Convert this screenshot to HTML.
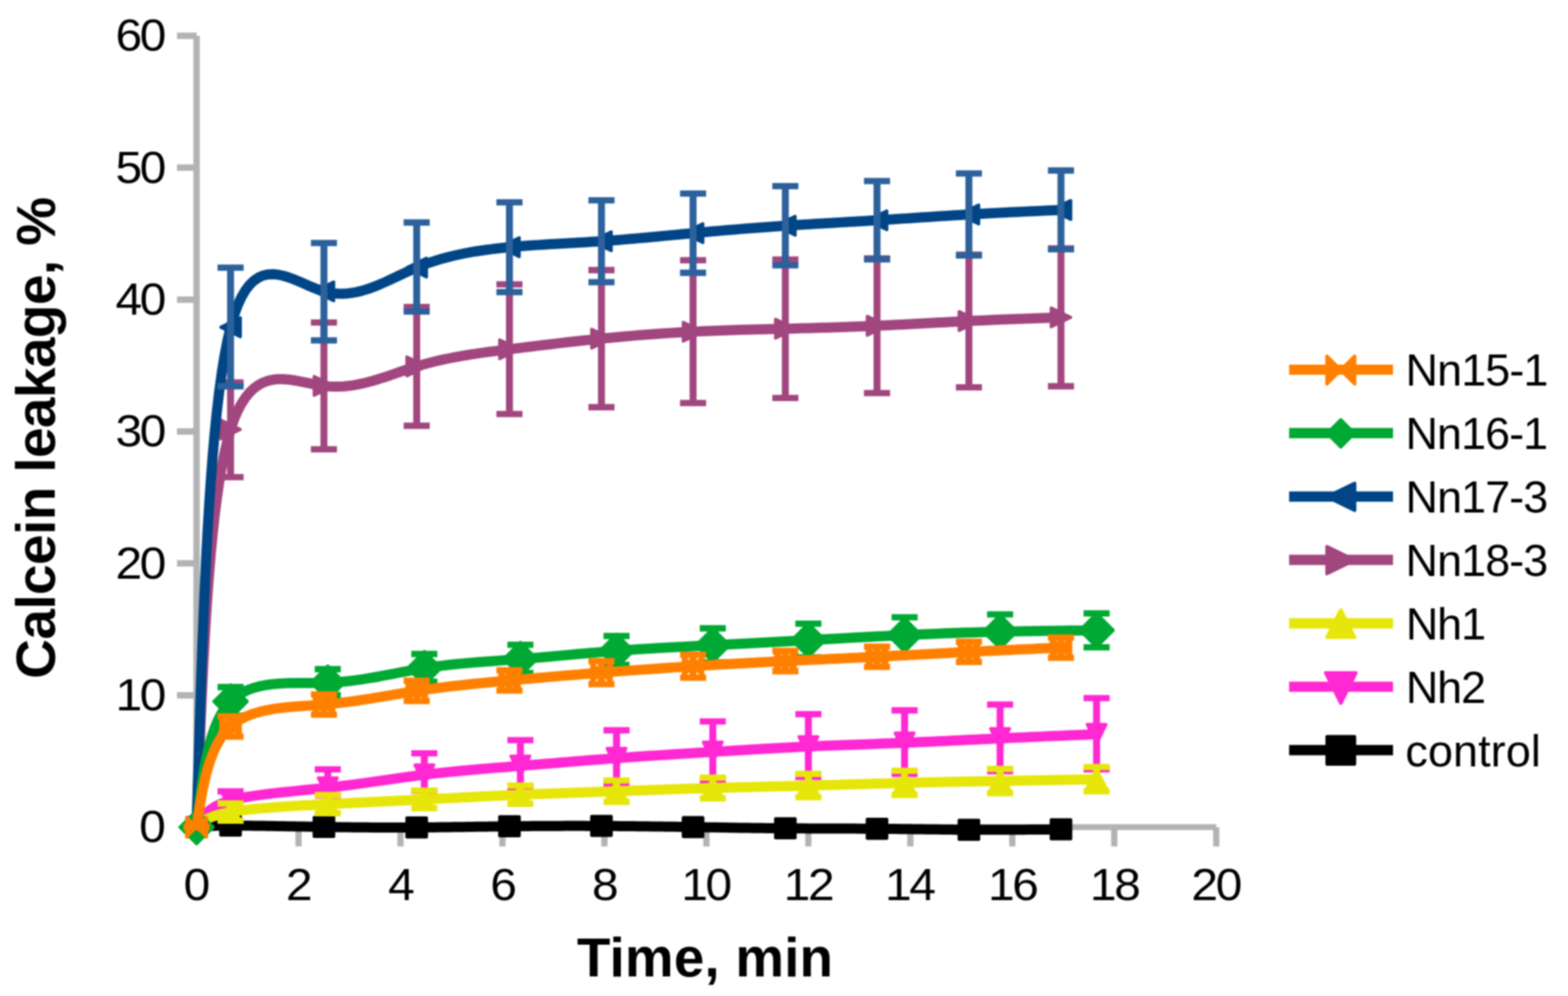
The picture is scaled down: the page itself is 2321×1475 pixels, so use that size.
<!DOCTYPE html>
<html lang="en"><head><meta charset="utf-8"><title>Calcein leakage</title>
<style>
html,body{margin:0;padding:0;background:#fff;}
body{width:2321px;height:1475px;overflow:hidden;}
svg{display:block;filter:blur(1.0px);}
</style></head><body>
<svg width="2321" height="1475" viewBox="0 0 2321 1475" role="img" aria-label="Calcein leakage versus time">
<rect width="2321" height="1475" fill="#fff"/>
<g id="axes" stroke="#b3b3b3" fill="none"><path stroke-width="9.5" d="M291 53.02 V1225"/><path stroke-width="8.8" d="M291 1224.8 H1800.3"/><path stroke-width="9.5" d="M262 1029.67 H291 M262 834.34 H291 M262 639.01 H291 M262 443.68 H291 M262 248.35 H291 M262 53.02 H291"/><path stroke-width="9.2" d="M441.93 1225 V1253.6 M592.86 1225 V1253.6 M743.79 1225 V1253.6 M894.72 1225 V1253.6 M1045.65 1225 V1253.6 M1196.58 1225 V1253.6 M1347.51 1225 V1253.6 M1498.44 1225 V1253.6 M1649.37 1225 V1253.6 M1800.3 1225 V1253.6"/></g>
<g id="ticklabels" font-family="'Liberation Sans', sans-serif" fill="#000">
<text class="yt" transform="translate(206.1 1247.3) scale(1.07 1)" font-size="66.3" letter-spacing="-3.25">0</text>
<text class="yt" transform="translate(170.9 1051.97) scale(1.07 1)" font-size="66.3" letter-spacing="-3.25">10</text>
<text class="yt" transform="translate(170.9 856.64) scale(1.07 1)" font-size="66.3" letter-spacing="-3.25">20</text>
<text class="yt" transform="translate(170.9 661.31) scale(1.07 1)" font-size="66.3" letter-spacing="-3.25">30</text>
<text class="yt" transform="translate(170.9 465.98) scale(1.07 1)" font-size="66.3" letter-spacing="-3.25">40</text>
<text class="yt" transform="translate(170.9 270.65) scale(1.07 1)" font-size="66.3" letter-spacing="-3.25">50</text>
<text class="yt" transform="translate(170.9 75.32) scale(1.07 1)" font-size="66.3" letter-spacing="-3.25">60</text>
<text class="xt" transform="translate(271.85 1332.7) scale(1.07 1)" font-size="66.3" letter-spacing="-3.25">0</text>
<text class="xt" transform="translate(423.3 1332.7) scale(1.07 1)" font-size="66.3" letter-spacing="-3.25">2</text>
<text class="xt" transform="translate(574.5 1332.7) scale(1.07 1)" font-size="66.3" letter-spacing="-3.25">4</text>
<text class="xt" transform="translate(725.7 1332.7) scale(1.07 1)" font-size="66.3" letter-spacing="-3.25">6</text>
<text class="xt" transform="translate(876.2 1332.7) scale(1.07 1)" font-size="66.3" letter-spacing="-3.25">8</text>
<text class="xt" transform="translate(1008.4 1332.7) scale(1.07 1)" font-size="66.3" letter-spacing="-3.25">10</text>
<text class="xt" transform="translate(1160.1 1332.7) scale(1.07 1)" font-size="66.3" letter-spacing="-3.25">12</text>
<text class="xt" transform="translate(1310.1 1332.7) scale(1.07 1)" font-size="66.3" letter-spacing="-3.25">14</text>
<text class="xt" transform="translate(1462.4 1332.7) scale(1.07 1)" font-size="66.3" letter-spacing="-3.25">16</text>
<text class="xt" transform="translate(1613.2 1332.7) scale(1.07 1)" font-size="66.3" letter-spacing="-3.25">18</text>
<text class="xt" transform="translate(1763.6 1332.7) scale(1.07 1)" font-size="66.3" letter-spacing="-3.25">20</text>
</g>
<g id="titles" font-family="'Liberation Sans', sans-serif" fill="#000">
<text id="xtitle" transform="translate(854 1445.8)" font-size="81" font-weight="bold" letter-spacing="0.3">Time, min</text>
<text id="ytitle" transform="translate(80.7 1005.2) rotate(-90)" font-size="81.5" font-weight="bold" letter-spacing="-0.92">Calcein leakage, %</text>
</g>
<g class="series">
<path d="M291 1225 L292.34 1224.82 L293.69 1224.64 L295.08 1224.46 L296.52 1224.29 L298.04 1224.12 L299.64 1223.95 L301.35 1223.79 L303.18 1223.63 L305.16 1223.48 L307.29 1223.34 L309.6 1223.21 L312.11 1223.09 L314.83 1222.98 L317.78 1222.89 L320.97 1222.8 L324.44 1222.73 L328.18 1222.67 L332.23 1222.63 L336.6 1222.61 L341.3 1222.6 L346.35 1222.61 L351.73 1222.64 L357.42 1222.68 L363.4 1222.74 L369.64 1222.81 L376.13 1222.89 L382.83 1222.98 L389.72 1223.09 L396.79 1223.2 L404.01 1223.32 L411.36 1223.44 L418.81 1223.57 L426.35 1223.7 L433.94 1223.83 L441.57 1223.96 L449.22 1224.1 L456.86 1224.23 L464.47 1224.36 L472.02 1224.48 L479.5 1224.6 L486.88 1224.71 L494.18 1224.82 L501.38 1224.91 L508.51 1225.01 L515.56 1225.09 L522.54 1225.17 L529.47 1225.23 L536.34 1225.3 L543.16 1225.35 L549.94 1225.39 L556.68 1225.43 L563.39 1225.46 L570.08 1225.48 L576.76 1225.5 L583.42 1225.5 L590.08 1225.5 L596.74 1225.49 L603.41 1225.47 L610.09 1225.44 L616.8 1225.4 L623.53 1225.35 L630.29 1225.3 L637.07 1225.24 L643.87 1225.17 L650.69 1225.09 L657.53 1225.01 L664.39 1224.92 L671.26 1224.83 L678.14 1224.74 L685.03 1224.64 L691.93 1224.55 L698.84 1224.45 L705.75 1224.35 L712.67 1224.25 L719.58 1224.15 L726.5 1224.06 L733.41 1223.96 L740.31 1223.87 L747.21 1223.78 L754.1 1223.7 L760.98 1223.62 L767.85 1223.55 L774.71 1223.48 L781.56 1223.42 L788.4 1223.36 L795.23 1223.31 L802.06 1223.27 L808.88 1223.23 L815.69 1223.19 L822.49 1223.16 L829.29 1223.14 L836.08 1223.12 L842.87 1223.11 L849.66 1223.11 L856.44 1223.11 L863.21 1223.11 L869.99 1223.13 L876.76 1223.14 L883.53 1223.17 L890.3 1223.2 L897.07 1223.24 L903.84 1223.28 L910.6 1223.33 L917.37 1223.38 L924.14 1223.44 L930.9 1223.51 L937.67 1223.58 L944.44 1223.65 L951.22 1223.73 L957.99 1223.81 L964.77 1223.9 L971.54 1223.99 L978.33 1224.08 L985.11 1224.17 L991.9 1224.27 L998.69 1224.37 L1005.49 1224.48 L1012.29 1224.58 L1019.09 1224.69 L1025.9 1224.8 L1032.71 1224.91 L1039.53 1225.02 L1046.36 1225.13 L1053.19 1225.25 L1060.02 1225.36 L1066.85 1225.47 L1073.69 1225.58 L1080.52 1225.68 L1087.36 1225.79 L1094.2 1225.89 L1101.04 1225.99 L1107.88 1226.09 L1114.71 1226.19 L1121.55 1226.27 L1128.38 1226.36 L1135.21 1226.44 L1142.04 1226.51 L1148.87 1226.58 L1155.68 1226.64 L1162.5 1226.7 L1169.31 1226.75 L1176.11 1226.79 L1182.92 1226.83 L1189.71 1226.86 L1196.5 1226.89 L1203.29 1226.91 L1210.08 1226.93 L1216.86 1226.95 L1223.64 1226.97 L1230.42 1226.99 L1237.2 1227.01 L1243.98 1227.02 L1250.76 1227.05 L1257.53 1227.07 L1264.31 1227.09 L1271.08 1227.13 L1277.86 1227.16 L1284.64 1227.2 L1291.42 1227.25 L1298.2 1227.3 L1304.98 1227.36 L1311.77 1227.43 L1318.56 1227.5 L1325.35 1227.58 L1332.14 1227.66 L1338.94 1227.75 L1345.73 1227.84 L1352.53 1227.92 L1359.33 1228.01 L1366.13 1228.1 L1372.93 1228.19 L1379.73 1228.28 L1386.54 1228.36 L1393.34 1228.44 L1400.15 1228.52 L1406.96 1228.59 L1413.77 1228.65 L1420.58 1228.71 L1427.39 1228.76 L1434.2 1228.8 L1441.01 1228.83 L1447.82 1228.85 L1454.64 1228.86 L1461.45 1228.87 L1468.26 1228.86 L1475.08 1228.85 L1481.89 1228.83 L1488.71 1228.81 L1495.52 1228.78 L1502.34 1228.74 L1509.15 1228.7 L1515.97 1228.66 L1522.78 1228.61 L1529.6 1228.56 L1536.42 1228.5 L1543.23 1228.45 L1550.05 1228.39 L1556.87 1228.32 L1563.68 1228.26 L1570.5 1228.2" fill="none" stroke="#000000" stroke-width="15" stroke-linejoin="round" stroke-linecap="butt"/>
<g fill="#000000" stroke="#000000" stroke-width="4.5" stroke-linejoin="round"><path d="M276.5 1210.85 L305.5 1210.85 L305.5 1239.15 L276.5 1239.15 Z"/><path d="M326.8 1208.45 L355.8 1208.45 L355.8 1236.75 L326.8 1236.75 Z"/><path d="M465 1210.45 L494 1210.45 L494 1238.75 L465 1238.75 Z"/><path d="M602.3 1211.25 L631.3 1211.25 L631.3 1239.55 L602.3 1239.55 Z"/><path d="M739.6 1209.55 L768.6 1209.55 L768.6 1237.85 L739.6 1237.85 Z"/><path d="M875.8 1209.05 L904.8 1209.05 L904.8 1237.35 L875.8 1237.35 Z"/><path d="M1011.4 1210.65 L1040.4 1210.65 L1040.4 1238.95 L1011.4 1238.95 Z"/><path d="M1148 1212.55 L1177 1212.55 L1177 1240.85 L1148 1240.85 Z"/><path d="M1283.7 1213.15 L1312.7 1213.15 L1312.7 1241.45 L1283.7 1241.45 Z"/><path d="M1419.7 1214.65 L1448.7 1214.65 L1448.7 1242.95 L1419.7 1242.95 Z"/><path d="M1556 1214.05 L1585 1214.05 L1585 1242.35 L1556 1242.35 Z"/></g>
</g>
<g class="series">
<path d="M291 1225 L292.26 1222.74 L293.54 1220.49 L294.86 1218.25 L296.23 1216.02 L297.68 1213.81 L299.23 1211.62 L300.88 1209.45 L302.67 1207.31 L304.61 1205.21 L306.72 1203.14 L309.02 1201.12 L311.53 1199.14 L314.26 1197.22 L317.24 1195.34 L320.48 1193.53 L324 1191.78 L327.83 1190.1 L331.97 1188.49 L336.46 1186.95 L341.3 1185.5 L346.51 1184.13 L352.08 1182.83 L357.98 1181.61 L364.18 1180.46 L370.66 1179.37 L377.39 1178.33 L384.36 1177.35 L391.54 1176.41 L398.91 1175.5 L406.43 1174.63 L414.09 1173.79 L421.86 1172.97 L429.72 1172.17 L437.65 1171.37 L445.62 1170.58 L453.6 1169.79 L461.57 1168.99 L469.51 1168.18 L477.4 1167.35 L485.2 1166.5 L492.91 1165.62 L500.51 1164.71 L508.03 1163.78 L515.46 1162.83 L522.81 1161.86 L530.09 1160.88 L537.31 1159.88 L544.47 1158.88 L551.57 1157.87 L558.63 1156.86 L565.65 1155.85 L572.63 1154.85 L579.59 1153.85 L586.53 1152.86 L593.45 1151.88 L600.37 1150.92 L607.29 1149.98 L614.21 1149.06 L621.15 1148.17 L628.1 1147.3 L635.08 1146.46 L642.08 1145.66 L649.1 1144.88 L656.15 1144.13 L663.21 1143.4 L670.29 1142.69 L677.38 1142.01 L684.49 1141.34 L691.61 1140.69 L698.74 1140.06 L705.89 1139.44 L713.03 1138.83 L720.19 1138.24 L727.35 1137.65 L734.51 1137.07 L741.67 1136.49 L748.83 1135.92 L755.99 1135.35 L763.15 1134.77 L770.3 1134.2 L777.44 1133.62 L784.58 1133.04 L791.71 1132.46 L798.84 1131.88 L805.96 1131.29 L813.08 1130.71 L820.19 1130.12 L827.31 1129.54 L834.41 1128.95 L841.52 1128.37 L848.63 1127.79 L855.73 1127.22 L862.83 1126.64 L869.94 1126.08 L877.04 1125.51 L884.15 1124.96 L891.26 1124.41 L898.37 1123.86 L905.48 1123.33 L912.6 1122.8 L919.72 1122.28 L926.85 1121.77 L933.97 1121.27 L941.1 1120.77 L948.24 1120.28 L955.37 1119.8 L962.5 1119.33 L969.64 1118.86 L976.77 1118.39 L983.91 1117.93 L991.04 1117.48 L998.17 1117.03 L1005.3 1116.58 L1012.43 1116.13 L1019.55 1115.69 L1026.67 1115.25 L1033.79 1114.81 L1040.9 1114.37 L1048 1113.94 L1055.1 1113.5 L1062.19 1113.06 L1069.28 1112.63 L1076.36 1112.19 L1083.44 1111.76 L1090.51 1111.33 L1097.58 1110.9 L1104.65 1110.47 L1111.71 1110.05 L1118.78 1109.63 L1125.84 1109.22 L1132.91 1108.82 L1139.97 1108.42 L1147.04 1108.02 L1154.11 1107.64 L1161.18 1107.26 L1168.25 1106.89 L1175.33 1106.52 L1182.42 1106.17 L1189.5 1105.83 L1196.6 1105.5 L1203.7 1105.18 L1210.81 1104.87 L1217.92 1104.57 L1225.04 1104.28 L1232.16 1103.99 L1239.29 1103.72 L1246.42 1103.44 L1253.55 1103.18 L1260.68 1102.91 L1267.81 1102.65 L1274.94 1102.39 L1282.07 1102.14 L1289.2 1101.88 L1296.33 1101.62 L1303.45 1101.36 L1310.57 1101.1 L1317.69 1100.83 L1324.8 1100.56 L1331.9 1100.28 L1339 1100 L1346.09 1099.71 L1353.18 1099.41 L1360.25 1099.11 L1367.33 1098.8 L1374.4 1098.49 L1381.46 1098.17 L1388.53 1097.85 L1395.59 1097.52 L1402.65 1097.19 L1409.7 1096.86 L1416.76 1096.52 L1423.82 1096.19 L1430.88 1095.85 L1437.94 1095.51 L1445.01 1095.17 L1452.08 1094.84 L1459.15 1094.5 L1466.23 1094.16 L1473.31 1093.83 L1480.4 1093.5 L1487.5 1093.17 L1494.6 1092.85 L1501.71 1092.52 L1508.82 1092.2 L1515.95 1091.89 L1523.07 1091.57 L1530.2 1091.26 L1537.34 1090.94 L1544.48 1090.63 L1551.62 1090.33 L1558.77 1090.02 L1565.92 1089.71 L1573.08 1089.41 L1580.23 1089.11 L1587.39 1088.8 L1594.55 1088.5 L1601.71 1088.2 L1608.87 1087.9 L1616.04 1087.6 L1623.2 1087.3" fill="none" stroke="#ff28d2" stroke-width="15" stroke-linejoin="round" stroke-linecap="butt"/>
<g fill="#ff28d2" stroke="#ff28d2" stroke-width="4.5" stroke-linejoin="round"><path d="M277 1210.5 L305 1210.5 L291 1239.5 Z"/><path d="M327.3 1171 L355.3 1171 L341.3 1200 Z"/><path d="M471.2 1152 L499.2 1152 L485.2 1181 Z"/><path d="M614.1 1132.8 L642.1 1132.8 L628.1 1161.8 Z"/><path d="M756.3 1119.7 L784.3 1119.7 L770.3 1148.7 Z"/><path d="M898.6 1108.3 L926.6 1108.3 L912.6 1137.3 Z"/><path d="M1041.1 1099 L1069.1 1099 L1055.1 1128 Z"/><path d="M1182.6 1091 L1210.6 1091 L1196.6 1120 Z"/><path d="M1325 1085.5 L1353 1085.5 L1339 1114.5 Z"/><path d="M1466.4 1079 L1494.4 1079 L1480.4 1108 Z"/><path d="M1609.2 1072.8 L1637.2 1072.8 L1623.2 1101.8 Z"/></g>
<g stroke="#ff28d2" fill="none"><path stroke-width="10.3" d="M341.3 1172 V1198 M485.2 1139.3 V1178 M628.1 1115.6 V1171.3 M770.3 1096.2 V1165.5 M912.6 1081.5 V1160.5 M1055.1 1068.4 V1155.5 M1196.6 1057.6 V1150.5 M1339 1052 V1146 M1480.4 1043.3 V1142 M1623.2 1033.8 V1139.4"/><path stroke-width="9.3" d="M271.7 1225 H310.3 M322 1172 H360.6 M322 1198 H360.6 M465.9 1139.3 H504.5 M465.9 1178 H504.5 M608.8 1115.6 H647.4 M608.8 1171.3 H647.4 M751 1096.2 H789.6 M751 1165.5 H789.6 M893.3 1081.5 H931.9 M893.3 1160.5 H931.9 M1035.8 1068.4 H1074.4 M1035.8 1155.5 H1074.4 M1177.3 1057.6 H1215.9 M1177.3 1150.5 H1215.9 M1319.7 1052 H1358.3 M1319.7 1146 H1358.3 M1461.1 1043.3 H1499.7 M1461.1 1142 H1499.7 M1603.9 1033.8 H1642.5 M1603.9 1139.4 H1642.5"/></g>
</g>
<g class="series">
<path d="M291 1225 L292.26 1223.75 L293.54 1222.51 L294.86 1221.27 L296.23 1220.04 L297.68 1218.81 L299.23 1217.59 L300.88 1216.39 L302.67 1215.19 L304.61 1214.02 L306.72 1212.85 L309.02 1211.71 L311.53 1210.59 L314.26 1209.49 L317.24 1208.42 L320.48 1207.37 L324 1206.35 L327.83 1205.37 L331.97 1204.41 L336.46 1203.49 L341.3 1202.6 L346.51 1201.75 L352.08 1200.94 L357.98 1200.16 L364.18 1199.42 L370.66 1198.7 L377.39 1198.02 L384.36 1197.37 L391.54 1196.74 L398.91 1196.15 L406.43 1195.57 L414.09 1195.02 L421.86 1194.5 L429.72 1193.99 L437.65 1193.5 L445.62 1193.03 L453.6 1192.58 L461.57 1192.14 L469.51 1191.71 L477.4 1191.3 L485.2 1190.9 L492.91 1190.51 L500.51 1190.12 L508.03 1189.75 L515.46 1189.38 L522.81 1189.02 L530.09 1188.66 L537.31 1188.31 L544.47 1187.96 L551.57 1187.62 L558.63 1187.28 L565.65 1186.94 L572.63 1186.6 L579.59 1186.27 L586.53 1185.94 L593.45 1185.6 L600.37 1185.27 L607.29 1184.93 L614.21 1184.59 L621.15 1184.25 L628.1 1183.9 L635.08 1183.55 L642.08 1183.2 L649.1 1182.84 L656.15 1182.48 L663.21 1182.12 L670.29 1181.75 L677.38 1181.39 L684.49 1181.03 L691.61 1180.66 L698.74 1180.3 L705.89 1179.94 L713.03 1179.59 L720.19 1179.23 L727.35 1178.88 L734.51 1178.54 L741.67 1178.2 L748.83 1177.86 L755.99 1177.53 L763.15 1177.21 L770.3 1176.9 L777.44 1176.59 L784.58 1176.3 L791.71 1176.01 L798.84 1175.72 L805.96 1175.44 L813.08 1175.17 L820.19 1174.91 L827.31 1174.64 L834.41 1174.39 L841.52 1174.13 L848.63 1173.88 L855.73 1173.64 L862.83 1173.39 L869.94 1173.15 L877.04 1172.91 L884.15 1172.66 L891.26 1172.42 L898.37 1172.18 L905.48 1171.94 L912.6 1171.7 L919.72 1171.46 L926.85 1171.21 L933.97 1170.97 L941.1 1170.72 L948.24 1170.47 L955.37 1170.23 L962.5 1169.98 L969.64 1169.74 L976.77 1169.49 L983.91 1169.25 L991.04 1169.01 L998.17 1168.77 L1005.3 1168.54 L1012.43 1168.31 L1019.55 1168.08 L1026.67 1167.85 L1033.79 1167.63 L1040.9 1167.42 L1048 1167.21 L1055.1 1167 L1062.19 1166.8 L1069.28 1166.6 L1076.36 1166.41 L1083.44 1166.23 L1090.51 1166.05 L1097.58 1165.87 L1104.65 1165.69 L1111.71 1165.51 L1118.78 1165.34 L1125.84 1165.17 L1132.91 1165 L1139.97 1164.83 L1147.04 1164.65 L1154.11 1164.48 L1161.18 1164.31 L1168.25 1164.13 L1175.33 1163.95 L1182.42 1163.77 L1189.5 1163.59 L1196.6 1163.4 L1203.7 1163.21 L1210.81 1163.01 L1217.92 1162.81 L1225.04 1162.61 L1232.16 1162.4 L1239.29 1162.2 L1246.42 1161.99 L1253.55 1161.78 L1260.68 1161.57 L1267.81 1161.36 L1274.94 1161.16 L1282.07 1160.95 L1289.2 1160.74 L1296.33 1160.54 L1303.45 1160.34 L1310.57 1160.15 L1317.69 1159.95 L1324.8 1159.76 L1331.9 1159.58 L1339 1159.4 L1346.09 1159.23 L1353.18 1159.06 L1360.25 1158.9 L1367.33 1158.74 L1374.4 1158.58 L1381.46 1158.44 L1388.53 1158.29 L1395.59 1158.15 L1402.65 1158.01 L1409.7 1157.87 L1416.76 1157.74 L1423.82 1157.61 L1430.88 1157.48 L1437.94 1157.35 L1445.01 1157.23 L1452.08 1157.1 L1459.15 1156.97 L1466.23 1156.85 L1473.31 1156.73 L1480.4 1156.6 L1487.5 1156.47 L1494.6 1156.35 L1501.71 1156.22 L1508.82 1156.09 L1515.95 1155.97 L1523.07 1155.84 L1530.2 1155.71 L1537.34 1155.58 L1544.48 1155.45 L1551.62 1155.32 L1558.77 1155.19 L1565.92 1155.06 L1573.08 1154.92 L1580.23 1154.79 L1587.39 1154.66 L1594.55 1154.53 L1601.71 1154.4 L1608.87 1154.26 L1616.04 1154.13 L1623.2 1154" fill="none" stroke="#e6e60a" stroke-width="15" stroke-linejoin="round" stroke-linecap="butt"/>
<g fill="#e6e60a" stroke="#e6e60a" stroke-width="4.5" stroke-linejoin="round"><path d="M275.75 1239.75 L306.25 1239.75 L291 1210.25 Z"/><path d="M326.05 1217.35 L356.55 1217.35 L341.3 1187.85 Z"/><path d="M469.95 1205.65 L500.45 1205.65 L485.2 1176.15 Z"/><path d="M612.85 1198.65 L643.35 1198.65 L628.1 1169.15 Z"/><path d="M755.05 1191.65 L785.55 1191.65 L770.3 1162.15 Z"/><path d="M897.35 1186.45 L927.85 1186.45 L912.6 1156.95 Z"/><path d="M1039.85 1181.75 L1070.35 1181.75 L1055.1 1152.25 Z"/><path d="M1181.35 1178.15 L1211.85 1178.15 L1196.6 1148.65 Z"/><path d="M1323.75 1174.15 L1354.25 1174.15 L1339 1144.65 Z"/><path d="M1465.15 1171.35 L1495.65 1171.35 L1480.4 1141.85 Z"/><path d="M1607.95 1168.75 L1638.45 1168.75 L1623.2 1139.25 Z"/></g>
<g stroke="#e6e60a" fill="none"><path stroke-width="10.3" d="M341.3 1189.9 V1215.3 M485.2 1177.4 V1204.3 M628.1 1170.9 V1196.8 M770.3 1163.4 V1190.3 M912.6 1155.9 V1187.5 M1055.1 1151.6 V1182.4 M1196.6 1146.2 V1180.6 M1339 1141.4 V1177.4 M1480.4 1138.6 V1174.6 M1623.2 1135.9 V1171.9"/><path stroke-width="9.3" d="M271.7 1225 H310.3 M322 1189.9 H360.6 M322 1215.3 H360.6 M465.9 1177.4 H504.5 M465.9 1204.3 H504.5 M608.8 1170.9 H647.4 M608.8 1196.8 H647.4 M751 1163.4 H789.6 M751 1190.3 H789.6 M893.3 1155.9 H931.9 M893.3 1187.5 H931.9 M1035.8 1151.6 H1074.4 M1035.8 1182.4 H1074.4 M1177.3 1146.2 H1215.9 M1177.3 1180.6 H1215.9 M1319.7 1141.4 H1358.3 M1319.7 1177.4 H1358.3 M1461.1 1138.6 H1499.7 M1461.1 1174.6 H1499.7 M1603.9 1135.9 H1642.5 M1603.9 1171.9 H1642.5"/></g>
</g>
<g class="series">
<path d="M291 1225 L292.34 1188.67 L293.69 1152.44 L295.08 1116.41 L296.52 1080.7 L298.04 1045.4 L299.64 1010.62 L301.35 976.46 L303.18 943.03 L305.16 910.42 L307.29 878.75 L309.6 848.11 L312.11 818.61 L314.83 790.35 L317.78 763.43 L320.97 737.97 L324.44 714.05 L328.18 691.8 L332.23 671.3 L336.6 652.67 L341.3 636 L346.35 621.36 L351.73 608.68 L357.42 597.81 L363.4 588.64 L369.64 581.04 L376.13 574.9 L382.83 570.07 L389.72 566.45 L396.79 563.91 L404.01 562.32 L411.36 561.56 L418.81 561.5 L426.35 562.02 L433.94 563 L441.57 564.31 L449.22 565.83 L456.86 567.43 L464.47 568.99 L472.02 570.39 L479.5 571.5 L486.88 572.22 L494.18 572.56 L501.38 572.53 L508.51 572.17 L515.56 571.5 L522.54 570.56 L529.47 569.35 L536.34 567.93 L543.16 566.29 L549.94 564.49 L556.68 562.53 L563.39 560.45 L570.08 558.28 L576.76 556.04 L583.42 553.75 L590.08 551.45 L596.74 549.16 L603.41 546.9 L610.09 544.71 L616.8 542.6 L623.53 540.6 L630.29 538.72 L637.07 536.94 L643.87 535.26 L650.69 533.67 L657.53 532.16 L664.39 530.74 L671.26 529.4 L678.14 528.13 L685.03 526.92 L691.93 525.77 L698.84 524.68 L705.75 523.63 L712.67 522.63 L719.58 521.66 L726.5 520.73 L733.41 519.82 L740.31 518.93 L747.21 518.06 L754.1 517.2 L760.98 516.34 L767.85 515.49 L774.71 514.64 L781.56 513.8 L788.4 512.96 L795.23 512.13 L802.06 511.31 L808.88 510.49 L815.69 509.69 L822.49 508.89 L829.29 508.1 L836.08 507.32 L842.87 506.55 L849.66 505.79 L856.44 505.05 L863.21 504.31 L869.99 503.59 L876.76 502.88 L883.53 502.18 L890.3 501.5 L897.07 500.83 L903.84 500.18 L910.6 499.54 L917.37 498.92 L924.14 498.31 L930.9 497.72 L937.67 497.14 L944.44 496.58 L951.22 496.04 L957.99 495.51 L964.77 495 L971.54 494.51 L978.33 494.03 L985.11 493.57 L991.9 493.13 L998.69 492.71 L1005.49 492.3 L1012.29 491.92 L1019.09 491.55 L1025.9 491.2 L1032.71 490.87 L1039.53 490.56 L1046.36 490.26 L1053.19 489.98 L1060.02 489.71 L1066.85 489.46 L1073.69 489.22 L1080.52 489 L1087.36 488.78 L1094.2 488.57 L1101.04 488.37 L1107.88 488.18 L1114.71 488 L1121.55 487.82 L1128.38 487.64 L1135.21 487.47 L1142.04 487.3 L1148.87 487.14 L1155.68 486.97 L1162.5 486.8 L1169.31 486.63 L1176.11 486.46 L1182.92 486.28 L1189.71 486.1 L1196.5 485.92 L1203.29 485.73 L1210.08 485.54 L1216.86 485.35 L1223.64 485.14 L1230.42 484.93 L1237.2 484.72 L1243.98 484.5 L1250.76 484.27 L1257.53 484.03 L1264.31 483.78 L1271.08 483.52 L1277.86 483.26 L1284.64 482.98 L1291.42 482.7 L1298.2 482.4 L1304.98 482.09 L1311.77 481.77 L1318.56 481.44 L1325.35 481.11 L1332.14 480.76 L1338.94 480.41 L1345.73 480.06 L1352.53 479.7 L1359.33 479.33 L1366.13 478.97 L1372.93 478.6 L1379.73 478.23 L1386.54 477.86 L1393.34 477.5 L1400.15 477.14 L1406.96 476.78 L1413.77 476.42 L1420.58 476.07 L1427.39 475.73 L1434.2 475.4 L1441.01 475.08 L1447.82 474.76 L1454.64 474.45 L1461.45 474.15 L1468.26 473.86 L1475.08 473.57 L1481.89 473.29 L1488.71 473.01 L1495.52 472.74 L1502.34 472.48 L1509.15 472.22 L1515.97 471.96 L1522.78 471.71 L1529.6 471.46 L1536.42 471.21 L1543.23 470.97 L1550.05 470.72 L1556.87 470.48 L1563.68 470.24 L1570.5 470" fill="none" stroke="#a1467e" stroke-width="15" stroke-linejoin="round" stroke-linecap="butt"/>
<g fill="#a1467e" stroke="#a1467e" stroke-width="4.5" stroke-linejoin="round"><path d="M276.5 1211 L305.5 1225 L276.5 1239 Z"/><path d="M326.8 622 L355.8 636 L326.8 650 Z"/><path d="M465 557.5 L494 571.5 L465 585.5 Z"/><path d="M602.3 528.6 L631.3 542.6 L602.3 556.6 Z"/><path d="M739.6 503.2 L768.6 517.2 L739.6 531.2 Z"/><path d="M875.8 487.5 L904.8 501.5 L875.8 515.5 Z"/><path d="M1011.4 477.2 L1040.4 491.2 L1011.4 505.2 Z"/><path d="M1148 472.8 L1177 486.8 L1148 500.8 Z"/><path d="M1283.7 468.4 L1312.7 482.4 L1283.7 496.4 Z"/><path d="M1419.7 461.4 L1448.7 475.4 L1419.7 489.4 Z"/><path d="M1556 456 L1585 470 L1556 484 Z"/></g>
<g stroke="#a1467e" fill="none"><path stroke-width="10.3" d="M341.3 566.5 V706.6 M479.5 477.7 V665.4 M616.8 454.7 V630.5 M754.1 421.2 V613.2 M890.3 400 V603 M1025.9 385.4 V596.9 M1162.5 384.3 V589.3 M1298.2 382.6 V582.2 M1434.2 377.1 V573.7 M1570.5 368 V572"/><path stroke-width="9.3" d="M271.7 1225 H310.3 M322 566.5 H360.6 M322 706.6 H360.6 M460.2 477.7 H498.8 M460.2 665.4 H498.8 M597.5 454.7 H636.1 M597.5 630.5 H636.1 M734.8 421.2 H773.4 M734.8 613.2 H773.4 M871 400 H909.6 M871 603 H909.6 M1006.6 385.4 H1045.2 M1006.6 596.9 H1045.2 M1143.2 384.3 H1181.8 M1143.2 589.3 H1181.8 M1278.9 382.6 H1317.5 M1278.9 582.2 H1317.5 M1414.9 377.1 H1453.5 M1414.9 573.7 H1453.5 M1551.2 368 H1589.8 M1551.2 572 H1589.8"/></g>
</g>
<g class="series">
<path d="M291 1225 L292.34 1178.86 L293.69 1132.86 L295.08 1087.13 L296.52 1041.81 L298.04 997.04 L299.64 952.96 L301.35 909.7 L303.18 867.4 L305.16 826.19 L307.29 786.22 L309.6 747.63 L312.11 710.54 L314.83 675.1 L317.78 641.44 L320.97 609.7 L324.44 580.01 L328.18 552.53 L332.23 527.37 L336.6 504.68 L341.3 484.6 L346.35 467.21 L351.73 452.39 L357.42 439.98 L363.4 429.8 L369.64 421.68 L376.13 415.45 L382.83 410.94 L389.72 407.98 L396.79 406.41 L404.01 406.04 L411.36 406.72 L418.81 408.26 L426.35 410.51 L433.94 413.28 L441.57 416.41 L449.22 419.73 L456.86 423.07 L464.47 426.26 L472.02 429.13 L479.5 431.5 L486.88 433.25 L494.18 434.37 L501.38 434.92 L508.51 434.93 L515.56 434.44 L522.54 433.5 L529.47 432.15 L536.34 430.43 L543.16 428.38 L549.94 426.05 L556.68 423.47 L563.39 420.69 L570.08 417.75 L576.76 414.69 L583.42 411.56 L590.08 408.39 L596.74 405.22 L603.41 402.11 L610.09 399.09 L616.8 396.2 L623.53 393.48 L630.29 390.92 L637.07 388.53 L643.87 386.29 L650.69 384.2 L657.53 382.25 L664.39 380.44 L671.26 378.75 L678.14 377.19 L685.03 375.74 L691.93 374.4 L698.84 373.16 L705.75 372.01 L712.67 370.96 L719.58 369.98 L726.5 369.08 L733.41 368.25 L740.31 367.48 L747.21 366.77 L754.1 366.1 L760.98 365.48 L767.85 364.89 L774.71 364.34 L781.56 363.82 L788.4 363.33 L795.23 362.86 L802.06 362.42 L808.88 362 L815.69 361.59 L822.49 361.19 L829.29 360.8 L836.08 360.42 L842.87 360.05 L849.66 359.67 L856.44 359.28 L863.21 358.89 L869.99 358.49 L876.76 358.08 L883.53 357.65 L890.3 357.2 L897.07 356.73 L903.84 356.23 L910.6 355.72 L917.37 355.18 L924.14 354.63 L930.9 354.07 L937.67 353.49 L944.44 352.89 L951.22 352.29 L957.99 351.67 L964.77 351.05 L971.54 350.42 L978.33 349.78 L985.11 349.14 L991.9 348.5 L998.69 347.85 L1005.49 347.21 L1012.29 346.57 L1019.09 345.93 L1025.9 345.3 L1032.71 344.67 L1039.53 344.05 L1046.36 343.44 L1053.19 342.84 L1060.02 342.24 L1066.85 341.65 L1073.69 341.06 L1080.52 340.49 L1087.36 339.92 L1094.2 339.36 L1101.04 338.82 L1107.88 338.27 L1114.71 337.74 L1121.55 337.22 L1128.38 336.71 L1135.21 336.21 L1142.04 335.71 L1148.87 335.23 L1155.68 334.76 L1162.5 334.3 L1169.31 333.85 L1176.11 333.41 L1182.92 332.98 L1189.71 332.56 L1196.5 332.14 L1203.29 331.73 L1210.08 331.33 L1216.86 330.93 L1223.64 330.54 L1230.42 330.15 L1237.2 329.76 L1243.98 329.37 L1250.76 328.98 L1257.53 328.59 L1264.31 328.2 L1271.08 327.81 L1277.86 327.42 L1284.64 327.02 L1291.42 326.61 L1298.2 326.2 L1304.98 325.78 L1311.77 325.36 L1318.56 324.93 L1325.35 324.5 L1332.14 324.06 L1338.94 323.62 L1345.73 323.18 L1352.53 322.74 L1359.33 322.29 L1366.13 321.85 L1372.93 321.41 L1379.73 320.97 L1386.54 320.53 L1393.34 320.09 L1400.15 319.66 L1406.96 319.24 L1413.77 318.82 L1420.58 318.4 L1427.39 318 L1434.2 317.6 L1441.01 317.21 L1447.82 316.83 L1454.64 316.46 L1461.45 316.09 L1468.26 315.73 L1475.08 315.38 L1481.89 315.03 L1488.71 314.69 L1495.52 314.36 L1502.34 314.03 L1509.15 313.7 L1515.97 313.38 L1522.78 313.06 L1529.6 312.75 L1536.42 312.44 L1543.23 312.13 L1550.05 311.82 L1556.87 311.51 L1563.68 311.21 L1570.5 310.9" fill="none" stroke="#004586" stroke-width="15" stroke-linejoin="round" stroke-linecap="butt"/>
<g fill="#004586" stroke="#004586" stroke-width="4.5" stroke-linejoin="round"><path d="M305.5 1211 L276.5 1225 L305.5 1239 Z"/><path d="M355.8 470.6 L326.8 484.6 L355.8 498.6 Z"/><path d="M494 417.5 L465 431.5 L494 445.5 Z"/><path d="M631.3 382.2 L602.3 396.2 L631.3 410.2 Z"/><path d="M768.6 352.1 L739.6 366.1 L768.6 380.1 Z"/><path d="M904.8 343.2 L875.8 357.2 L904.8 371.2 Z"/><path d="M1040.4 331.3 L1011.4 345.3 L1040.4 359.3 Z"/><path d="M1177 320.3 L1148 334.3 L1177 348.3 Z"/><path d="M1312.7 312.2 L1283.7 326.2 L1312.7 340.2 Z"/><path d="M1448.7 303.6 L1419.7 317.6 L1448.7 331.6 Z"/><path d="M1585 296.9 L1556 310.9 L1585 324.9 Z"/></g>
<g stroke="#2c619c" fill="none"><path stroke-width="10.3" d="M341.3 396.4 V572 M479.5 359.9 V504.2 M616.8 329.5 V461.4 M754.1 299.6 V432.6 M890.3 296.6 V417.8 M1025.9 286.6 V404 M1162.5 275.7 V392.9 M1298.2 268.2 V384.2 M1434.2 256.9 V378.4 M1570.5 252.5 V369.2"/><path stroke-width="9.3" d="M271.7 1225 H310.3 M322 396.4 H360.6 M322 572 H360.6 M460.2 359.9 H498.8 M460.2 504.2 H498.8 M597.5 329.5 H636.1 M597.5 461.4 H636.1 M734.8 299.6 H773.4 M734.8 432.6 H773.4 M871 296.6 H909.6 M871 417.8 H909.6 M1006.6 286.6 H1045.2 M1006.6 404 H1045.2 M1143.2 275.7 H1181.8 M1143.2 392.9 H1181.8 M1278.9 268.2 H1317.5 M1278.9 384.2 H1317.5 M1414.9 256.9 H1453.5 M1414.9 378.4 H1453.5 M1551.2 252.5 H1589.8 M1551.2 369.2 H1589.8"/></g>
</g>
<g class="series">
<path d="M291 1225 L292.26 1213.59 L293.54 1202.21 L294.86 1190.89 L296.23 1179.67 L297.68 1168.57 L299.23 1157.63 L300.88 1146.89 L302.67 1136.36 L304.61 1126.09 L306.72 1116.1 L309.02 1106.42 L311.53 1097.1 L314.26 1088.15 L317.24 1079.61 L320.48 1071.52 L324 1063.9 L327.83 1056.79 L331.97 1050.21 L336.46 1044.21 L341.3 1038.8 L346.51 1034.01 L352.08 1029.82 L357.98 1026.18 L364.18 1023.06 L370.66 1020.41 L377.39 1018.19 L384.36 1016.37 L391.54 1014.91 L398.91 1013.77 L406.43 1012.91 L414.09 1012.29 L421.86 1011.87 L429.72 1011.61 L437.65 1011.47 L445.62 1011.41 L453.6 1011.4 L461.57 1011.39 L469.51 1011.35 L477.4 1011.23 L485.2 1011 L492.91 1010.63 L500.51 1010.11 L508.03 1009.46 L515.46 1008.7 L522.81 1007.83 L530.09 1006.86 L537.31 1005.81 L544.47 1004.68 L551.57 1003.49 L558.63 1002.25 L565.65 1000.97 L572.63 999.66 L579.59 998.33 L586.53 997 L593.45 995.67 L600.37 994.36 L607.29 993.07 L614.21 991.83 L621.15 990.63 L628.1 989.5 L635.08 988.44 L642.08 987.44 L649.1 986.51 L656.15 985.64 L663.21 984.82 L670.29 984.05 L677.38 983.33 L684.49 982.65 L691.61 982 L698.74 981.39 L705.89 980.8 L713.03 980.24 L720.19 979.69 L727.35 979.16 L734.51 978.64 L741.67 978.12 L748.83 977.6 L755.99 977.08 L763.15 976.55 L770.3 976 L777.44 975.44 L784.58 974.86 L791.71 974.26 L798.84 973.66 L805.96 973.04 L813.08 972.42 L820.19 971.78 L827.31 971.15 L834.41 970.51 L841.52 969.87 L848.63 969.23 L855.73 968.59 L862.83 967.95 L869.94 967.33 L877.04 966.71 L884.15 966.1 L891.26 965.5 L898.37 964.92 L905.48 964.35 L912.6 963.8 L919.72 963.27 L926.85 962.76 L933.97 962.26 L941.1 961.78 L948.24 961.32 L955.37 960.87 L962.5 960.44 L969.64 960.01 L976.77 959.6 L983.91 959.2 L991.04 958.81 L998.17 958.42 L1005.3 958.04 L1012.43 957.67 L1019.55 957.3 L1026.67 956.94 L1033.79 956.58 L1040.9 956.22 L1048 955.86 L1055.1 955.5 L1062.19 955.14 L1069.28 954.78 L1076.36 954.41 L1083.44 954.05 L1090.51 953.68 L1097.58 953.31 L1104.65 952.94 L1111.71 952.57 L1118.78 952.2 L1125.84 951.83 L1132.91 951.45 L1139.97 951.07 L1147.04 950.69 L1154.11 950.31 L1161.18 949.93 L1168.25 949.55 L1175.33 949.16 L1182.42 948.78 L1189.5 948.39 L1196.6 948 L1203.7 947.61 L1210.81 947.22 L1217.92 946.83 L1225.04 946.43 L1232.16 946.04 L1239.29 945.65 L1246.42 945.26 L1253.55 944.87 L1260.68 944.48 L1267.81 944.1 L1274.94 943.72 L1282.07 943.34 L1289.2 942.97 L1296.33 942.6 L1303.45 942.23 L1310.57 941.88 L1317.69 941.52 L1324.8 941.17 L1331.9 940.83 L1339 940.5 L1346.09 940.17 L1353.18 939.86 L1360.25 939.54 L1367.33 939.24 L1374.4 938.95 L1381.46 938.66 L1388.53 938.38 L1395.59 938.11 L1402.65 937.84 L1409.7 937.59 L1416.76 937.34 L1423.82 937.1 L1430.88 936.87 L1437.94 936.65 L1445.01 936.44 L1452.08 936.23 L1459.15 936.04 L1466.23 935.85 L1473.31 935.67 L1480.4 935.5 L1487.5 935.34 L1494.6 935.19 L1501.71 935.04 L1508.82 934.91 L1515.95 934.78 L1523.07 934.66 L1530.2 934.54 L1537.34 934.43 L1544.48 934.32 L1551.62 934.22 L1558.77 934.13 L1565.92 934.04 L1573.08 933.95 L1580.23 933.87 L1587.39 933.78 L1594.55 933.7 L1601.71 933.63 L1608.87 933.55 L1616.04 933.48 L1623.2 933.4" fill="none" stroke="#00a933" stroke-width="15" stroke-linejoin="round" stroke-linecap="butt"/>
<g fill="#00a933" stroke="#00a933" stroke-width="4.5" stroke-linejoin="round"><path d="M291 1200.25 L315.75 1225 L291 1249.75 L266.25 1225 Z"/><path d="M341.3 1014.05 L366.05 1038.8 L341.3 1063.55 L316.55 1038.8 Z"/><path d="M485.2 986.25 L509.95 1011 L485.2 1035.75 L460.45 1011 Z"/><path d="M628.1 964.75 L652.85 989.5 L628.1 1014.25 L603.35 989.5 Z"/><path d="M770.3 951.25 L795.05 976 L770.3 1000.75 L745.55 976 Z"/><path d="M912.6 939.05 L937.35 963.8 L912.6 988.55 L887.85 963.8 Z"/><path d="M1055.1 930.75 L1079.85 955.5 L1055.1 980.25 L1030.35 955.5 Z"/><path d="M1196.6 923.25 L1221.35 948 L1196.6 972.75 L1171.85 948 Z"/><path d="M1339 915.75 L1363.75 940.5 L1339 965.25 L1314.25 940.5 Z"/><path d="M1480.4 910.75 L1505.15 935.5 L1480.4 960.25 L1455.65 935.5 Z"/><path d="M1623.2 908.65 L1647.95 933.4 L1623.2 958.15 L1598.45 933.4 Z"/></g>
<g stroke="#00a933" fill="none"><path stroke-width="10.3" d="M341.3 1017.5 V1060 M485.2 991 V1029.3 M628.1 968.5 V1009.7 M770.3 954.8 V996.7 M912.6 941.8 V984.7 M1055.1 930.5 V981 M1196.6 923.6 V973.5 M1339 914.2 V968.5 M1480.4 909.9 V962 M1623.2 908.3 V958.7"/><path stroke-width="9.3" d="M271.7 1225 H310.3 M322 1017.5 H360.6 M322 1060 H360.6 M465.9 991 H504.5 M465.9 1029.3 H504.5 M608.8 968.5 H647.4 M608.8 1009.7 H647.4 M751 954.8 H789.6 M751 996.7 H789.6 M893.3 941.8 H931.9 M893.3 984.7 H931.9 M1035.8 930.5 H1074.4 M1035.8 981 H1074.4 M1177.3 923.6 H1215.9 M1177.3 973.5 H1215.9 M1319.7 914.2 H1358.3 M1319.7 968.5 H1358.3 M1461.1 909.9 H1499.7 M1461.1 962 H1499.7 M1603.9 908.3 H1642.5 M1603.9 958.7 H1642.5"/></g>
</g>
<g class="series">
<path d="M291 1225 L292.34 1216.02 L293.69 1207.07 L295.08 1198.16 L296.52 1189.31 L298.04 1180.56 L299.64 1171.93 L301.35 1163.43 L303.18 1155.09 L305.16 1146.93 L307.29 1138.98 L309.6 1131.26 L312.11 1123.79 L314.83 1116.59 L317.78 1109.69 L320.97 1103.11 L324.44 1096.87 L328.18 1091 L332.23 1085.51 L336.6 1080.44 L341.3 1075.8 L346.35 1071.61 L351.73 1067.85 L357.42 1064.49 L363.4 1061.51 L369.64 1058.88 L376.13 1056.57 L382.83 1054.56 L389.72 1052.82 L396.79 1051.32 L404.01 1050.04 L411.36 1048.95 L418.81 1048.03 L426.35 1047.24 L433.94 1046.56 L441.57 1045.96 L449.22 1045.42 L456.86 1044.91 L464.47 1044.41 L472.02 1043.88 L479.5 1043.3 L486.88 1042.65 L494.18 1041.93 L501.38 1041.14 L508.51 1040.3 L515.56 1039.4 L522.54 1038.45 L529.47 1037.46 L536.34 1036.43 L543.16 1035.37 L549.94 1034.28 L556.68 1033.18 L563.39 1032.05 L570.08 1030.92 L576.76 1029.79 L583.42 1028.65 L590.08 1027.52 L596.74 1026.41 L603.41 1025.31 L610.09 1024.24 L616.8 1023.2 L623.53 1022.19 L630.29 1021.22 L637.07 1020.27 L643.87 1019.36 L650.69 1018.48 L657.53 1017.62 L664.39 1016.79 L671.26 1015.99 L678.14 1015.21 L685.03 1014.45 L691.93 1013.71 L698.84 1012.98 L705.75 1012.28 L712.67 1011.59 L719.58 1010.92 L726.5 1010.25 L733.41 1009.6 L740.31 1008.96 L747.21 1008.33 L754.1 1007.7 L760.98 1007.08 L767.85 1006.46 L774.71 1005.85 L781.56 1005.24 L788.4 1004.64 L795.23 1004.05 L802.06 1003.45 L808.88 1002.87 L815.69 1002.29 L822.49 1001.71 L829.29 1001.14 L836.08 1000.57 L842.87 1000.01 L849.66 999.45 L856.44 998.9 L863.21 998.35 L869.99 997.8 L876.76 997.26 L883.53 996.73 L890.3 996.2 L897.07 995.67 L903.84 995.15 L910.6 994.64 L917.37 994.13 L924.14 993.62 L930.9 993.12 L937.67 992.62 L944.44 992.13 L951.22 991.64 L957.99 991.16 L964.77 990.68 L971.54 990.2 L978.33 989.74 L985.11 989.27 L991.9 988.81 L998.69 988.36 L1005.49 987.91 L1012.29 987.47 L1019.09 987.03 L1025.9 986.6 L1032.71 986.17 L1039.53 985.75 L1046.36 985.33 L1053.19 984.92 L1060.02 984.51 L1066.85 984.11 L1073.69 983.72 L1080.52 983.32 L1087.36 982.94 L1094.2 982.56 L1101.04 982.18 L1107.88 981.81 L1114.71 981.44 L1121.55 981.08 L1128.38 980.72 L1135.21 980.37 L1142.04 980.02 L1148.87 979.67 L1155.68 979.33 L1162.5 979 L1169.31 978.67 L1176.11 978.34 L1182.92 978.02 L1189.71 977.7 L1196.5 977.38 L1203.29 977.07 L1210.08 976.76 L1216.86 976.44 L1223.64 976.13 L1230.42 975.82 L1237.2 975.51 L1243.98 975.19 L1250.76 974.88 L1257.53 974.56 L1264.31 974.25 L1271.08 973.92 L1277.86 973.6 L1284.64 973.27 L1291.42 972.94 L1298.2 972.6 L1304.98 972.26 L1311.77 971.91 L1318.56 971.56 L1325.35 971.2 L1332.14 970.84 L1338.94 970.48 L1345.73 970.12 L1352.53 969.75 L1359.33 969.38 L1366.13 969.02 L1372.93 968.65 L1379.73 968.28 L1386.54 967.91 L1393.34 967.54 L1400.15 967.18 L1406.96 966.82 L1413.77 966.46 L1420.58 966.1 L1427.39 965.75 L1434.2 965.4 L1441.01 965.06 L1447.82 964.72 L1454.64 964.38 L1461.45 964.05 L1468.26 963.72 L1475.08 963.4 L1481.89 963.08 L1488.71 962.76 L1495.52 962.44 L1502.34 962.13 L1509.15 961.82 L1515.97 961.51 L1522.78 961.21 L1529.6 960.9 L1536.42 960.6 L1543.23 960.3 L1550.05 960 L1556.87 959.7 L1563.68 959.4 L1570.5 959.1" fill="none" stroke="#ff8000" stroke-width="15" stroke-linejoin="round" stroke-linecap="butt"/>
<g fill="#ff8000" stroke="#ff8000" stroke-width="4.5" stroke-linejoin="round"><path d="M276.5 1210.5 L291 1225 L276.5 1239.5 Z M305.5 1210.5 L291 1225 L305.5 1239.5 Z"/><path d="M326.8 1061.3 L341.3 1075.8 L326.8 1090.3 Z M355.8 1061.3 L341.3 1075.8 L355.8 1090.3 Z"/><path d="M465 1028.8 L479.5 1043.3 L465 1057.8 Z M494 1028.8 L479.5 1043.3 L494 1057.8 Z"/><path d="M602.3 1008.7 L616.8 1023.2 L602.3 1037.7 Z M631.3 1008.7 L616.8 1023.2 L631.3 1037.7 Z"/><path d="M739.6 993.2 L754.1 1007.7 L739.6 1022.2 Z M768.6 993.2 L754.1 1007.7 L768.6 1022.2 Z"/><path d="M875.8 981.7 L890.3 996.2 L875.8 1010.7 Z M904.8 981.7 L890.3 996.2 L904.8 1010.7 Z"/><path d="M1011.4 972.1 L1025.9 986.6 L1011.4 1001.1 Z M1040.4 972.1 L1025.9 986.6 L1040.4 1001.1 Z"/><path d="M1148 964.5 L1162.5 979 L1148 993.5 Z M1177 964.5 L1162.5 979 L1177 993.5 Z"/><path d="M1283.7 958.1 L1298.2 972.6 L1283.7 987.1 Z M1312.7 958.1 L1298.2 972.6 L1312.7 987.1 Z"/><path d="M1419.7 950.9 L1434.2 965.4 L1419.7 979.9 Z M1448.7 950.9 L1434.2 965.4 L1448.7 979.9 Z"/><path d="M1556 944.6 L1570.5 959.1 L1556 973.6 Z M1585 944.6 L1570.5 959.1 L1585 973.6 Z"/></g>
<g stroke="#ff8000" fill="none"><path stroke-width="10.3" d="M341.3 1060.8 V1090.8 M479.5 1028.3 V1058.3 M616.8 1008.2 V1038.2 M754.1 992.7 V1022.7 M890.3 979.2 V1013.2 M1025.9 969.6 V1003.6 M1162.5 964 V994 M1298.2 957.6 V987.6 M1434.2 950.4 V980.4 M1570.5 944.1 V974.1"/><path stroke-width="9.3" d="M271.7 1225 H310.3 M322 1060.8 H360.6 M322 1090.8 H360.6 M460.2 1028.3 H498.8 M460.2 1058.3 H498.8 M597.5 1008.2 H636.1 M597.5 1038.2 H636.1 M734.8 992.7 H773.4 M734.8 1022.7 H773.4 M871 979.2 H909.6 M871 1013.2 H909.6 M1006.6 969.6 H1045.2 M1006.6 1003.6 H1045.2 M1143.2 964 H1181.8 M1143.2 994 H1181.8 M1278.9 957.6 H1317.5 M1278.9 987.6 H1317.5 M1414.9 950.4 H1453.5 M1414.9 980.4 H1453.5 M1551.2 944.1 H1589.8 M1551.2 974.1 H1589.8"/></g>
</g>
<g id="legend" font-family="'Liberation Sans', sans-serif" fill="#000">
<path d="M1908.2 547.5 H2062" stroke="#ff8000" stroke-width="15.2" fill="none"/>
<g fill="#ff8000" stroke="#ff8000" stroke-width="5" stroke-linejoin="round"><path d="M1964.2 527.4 L1984.7 547.9 L1964.2 568.4 Z M2005.2 527.4 L1984.7 547.9 L2005.2 568.4 Z"/></g>
<text class="lg" transform="translate(2080.6 571.1)" font-size="66.5" letter-spacing="-1.36">Nn15-1</text>
<path d="M1908.2 641.4 H2062" stroke="#00a933" stroke-width="15.2" fill="none"/>
<g fill="#00a933" stroke="#00a933" stroke-width="5" stroke-linejoin="round"><path d="M1984.7 621.8 L2004.7 641.8 L1984.7 661.8 L1964.7 641.8 Z"/></g>
<text class="lg" transform="translate(2080.5 665)" font-size="66.5" letter-spacing="-1.4">Nn16-1</text>
<path d="M1908.2 735.3 H2062" stroke="#004586" stroke-width="15.2" fill="none"/>
<g fill="#004586" stroke="#004586" stroke-width="5" stroke-linejoin="round"><path d="M2005.2 715.7 L1964.2 735.7 L2005.2 755.7 Z"/></g>
<text class="lg" transform="translate(2080.5 758.9)" font-size="66.5" letter-spacing="-1.36">Nn17-3</text>
<path d="M1908.2 829.2 H2062" stroke="#a1467e" stroke-width="15.2" fill="none"/>
<g fill="#a1467e" stroke="#a1467e" stroke-width="5" stroke-linejoin="round"><path d="M1964.2 809.6 L2005.2 829.6 L1964.2 849.6 Z"/></g>
<text class="lg" transform="translate(2080.5 852.8)" font-size="66.5" letter-spacing="-1.36">Nn18-3</text>
<path d="M1908.2 923.1 H2062" stroke="#e6e60a" stroke-width="15.2" fill="none"/>
<g fill="#e6e60a" stroke="#e6e60a" stroke-width="5" stroke-linejoin="round"><path d="M1964.2 943.75 L2005.2 943.75 L1984.7 903.25 Z"/></g>
<text class="lg" transform="translate(2081 946.7)" font-size="66.5" letter-spacing="-1.65">Nh1</text>
<path d="M1908.2 1017 H2062" stroke="#ff28d2" stroke-width="15.2" fill="none"/>
<g fill="#ff28d2" stroke="#ff28d2" stroke-width="5" stroke-linejoin="round"><path d="M1962.2 996.4 L2007.2 996.4 L1984.7 1041.4 Z"/></g>
<text class="lg" transform="translate(2081 1040.6)" font-size="66.5" letter-spacing="-1.65">Nh2</text>
<path d="M1908.2 1110.9 H2062" stroke="#000000" stroke-width="15.2" fill="none"/>
<g fill="#000000" stroke="#000000" stroke-width="5" stroke-linejoin="round"><path d="M1964.45 1091.05 L2004.95 1091.05 L2004.95 1131.55 L1964.45 1131.55 Z"/></g>
<text class="lg" transform="translate(2080.3 1134.5)" font-size="66.5" letter-spacing="0.15">control</text>
</g>
</svg>
</body></html>
